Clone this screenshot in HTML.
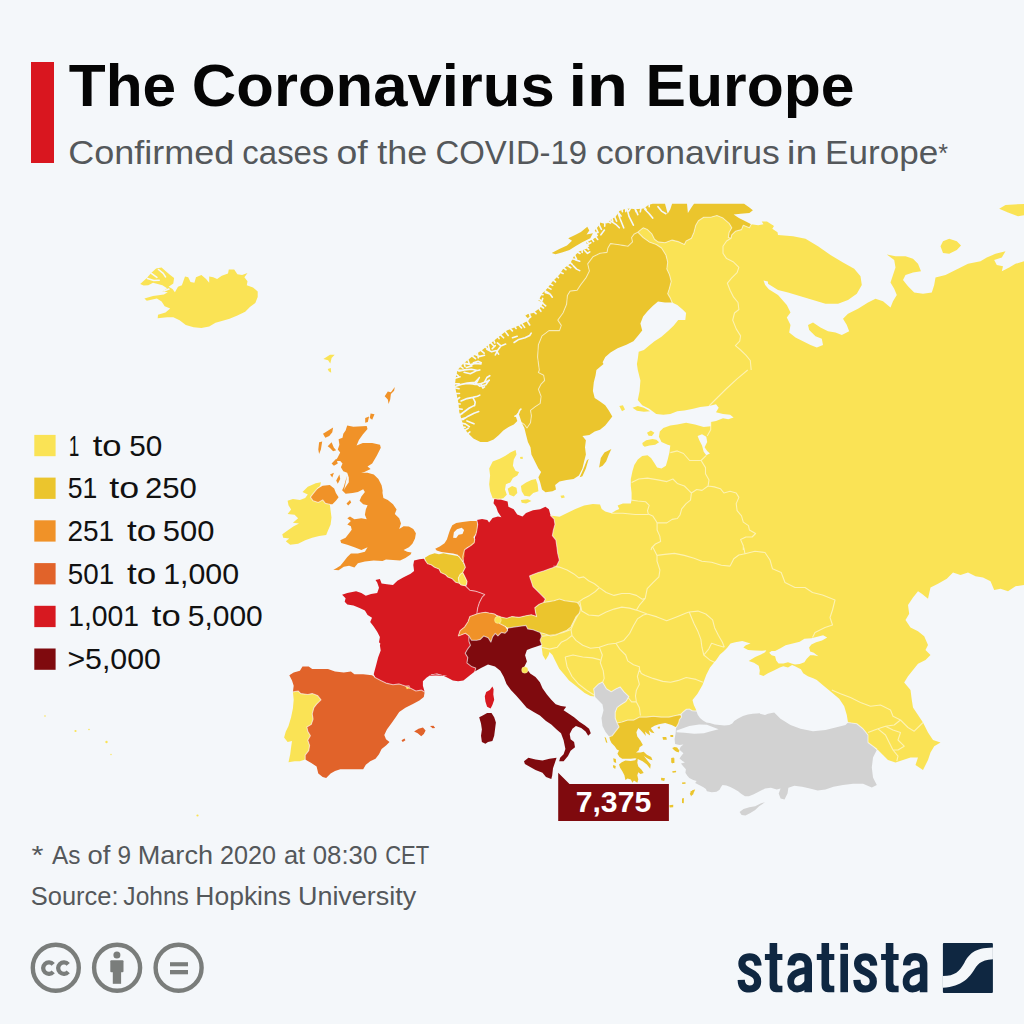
<!DOCTYPE html>
<html><head><meta charset="utf-8"><title>The Coronavirus in Europe</title>
<style>
html,body{margin:0;padding:0;background:#F4F7FA;}
body{width:1024px;height:1024px;overflow:hidden;font-family:"Liberation Sans",sans-serif;}
svg{display:block;}
text{font-family:"Liberation Sans",sans-serif;}
</style></head>
<body>
<svg width="1024" height="1024" viewBox="0 0 1024 1024">
<rect width="1024" height="1024" fill="#F4F7FA"/>
<g id="map">
<path d="M672.1,302.5L670.3,298.1L667.7,293.7L669.4,288.4L671.2,281.4L669.4,274.4L666.8,269.1L667.7,262.1L665.9,255L661.5,248L656.2,244.5L649.2,241.9L643.1,237.5L637.8,232.2L643.1,227.8L647.5,229.6L651.9,233.9L654.5,239.2L658,241.9L665,242.7L672.1,240.1L679.1,241.9L684.4,244.5L686.1,241L691.4,238.3L694,232.2L695.8,225.2L698.4,220.8L703.7,217.2L710.7,217.2L716.9,215.5L723,218.1L729.2,223.4L731.8,227.8L729.2,232.2L728.3,237.5L731,238.3L731.8,234.8L735.4,231.3L741.5,229.6L743.3,225.2L749.4,227.8L751.2,224.3L758.2,225.2L763.5,224.3L761.7,221.6L767,221.6L774,226L772.3,228.7L777.5,232.2L778,235L793,236.2L805.5,238.8L818,246.2L830.5,255L843,262.5L854.2,268.8L860.5,276.2L861.8,285L856.8,293.8L848,300L838,303.8L825.5,303.8L813,300L800.5,296.2L788,292.5L778,290L768,283.8L767.9,281.4L763.5,280.5L765.2,284.9L768.8,289.3L778,295L786.8,305L790.5,312.5L786.8,317.5L790.5,325L789.2,332.5L795.5,337.5L803,341.2L810.5,345L816.8,347.5L823,345L821.8,338.8L815.5,336.2L809.2,330L808,325L813,322.5L820.5,327.5L828,331.2L835.5,332.5L841.8,335L849.2,331.2L846.8,325L843,318.8L848,313.8L858,308.8L868,302.5L875.5,298.8L883,301.2L890.5,307.5L893,301.2L896.8,295L894.2,288.8L890.5,282.5L893,275L895.5,267.5L894.2,260L886.8,254.5L895.5,256.2L905.5,256.2L913,258.8L918,263.8L921,271.2L913,272.5L905.5,275L903,280L908,286.2L914.2,292.5L923,293.8L931.8,292.5L934.2,285L935.5,277.5L945.5,275L955.5,270L968,263.8L980.5,261.2L986.8,257.5L995.5,253.8L1005.5,251.2L1001.8,257.5L994.2,260L996.8,265L1003,266.2L1001.8,271.2L1009.2,267.5L1015.5,263.8L1024,261.2L1030,261L1030,585L1024,585L1015.5,586.2L1008,591.2L1000.5,588.8L994.2,590L990.5,581.2L983,577.5L975.5,576.2L968,572.5L960.5,575L953,572.5L946.8,578.8L938,583.8L930.5,587.5L928,598.8L921.8,593.8L918,591.2L913,597.5L908,605L909.2,613.8L905.5,620L910.5,627.5L918,631.2L924.2,636.2L928,645L925.5,650L930.5,655L925.5,660L918,663.8L913,670L908,676.2L904.2,682.5L910.5,690L911.8,700L913,707.5L918,715L923,722.5L928,732.5L933,740L940.5,742.5L934.2,746.2L930.5,752.5L928,760L923,770L915.5,765L918,757.5L910.5,757.5L903,760L895.5,762.5L888,760L883,755L878,750L873,746.2L868,742.5L868,735L863,728.8L856.8,723.8L848,722.5L846.8,715L844.2,706.2L839.2,698.8L831.8,692.5L824.2,686.2L816.8,680L813.8,678.6L807.9,676.2L803.2,673.3L800.9,669.2L795,666.3L792.1,665.1L788,667.5L783.3,666.3L779.8,667.5L773.9,670.4L768,673.3L763.4,676L759.3,674.5L759.8,670.4L758.7,665.7L754,662.8L748.7,661L755.2,656.9L761,654.6L765.1,652.2L766.3,650.2L762.2,650.7L755.2,650.5L748.1,649.9L743.4,647.5L745.8,645.2L750.5,643.4L742.3,641.1L735.2,642.3L730.5,643.4L727,648.1L723.5,651.6L720,654.6L716.2,660L710,667.5L706.2,675L702.5,685L697.5,693.8L692.5,700L693.8,705L696.8,711.2L692.2,710.7L689.3,709L686.4,709.3L683.4,711.7L681,714.2L676.7,715.2L668.9,717.1L661.1,717.1L653.3,716.2L646.4,717.1L639.6,717.1L633.8,720.1L627.9,720.1L622,722L617.1,723L615.2,718.1L615.2,712.3L617.1,707.4L621.1,704.5L625.9,701.5L628.9,696.6L624,691.8L620.1,686.9L616.2,688.8L611.3,691.8L606.4,688.8L602.5,682L598.6,683.9L593.7,688.8L594.7,696.6L590.5,696L584.7,693.1L578.8,688.2L573.9,684.3L569.1,680.4L564.2,674.5L559.3,668.7L555.4,660.9L552.5,655L549.5,652.1L548.6,655L545.6,659.9L542.7,655L541.7,647.2L541.8,644.7L540.1,640.3L541.8,635.9L540.1,632.4L545.4,634.1L550.6,635.9L555.9,635L561.2,632.4L566.4,630.6L570.8,627.1L573.5,621.8L576.1,616.6L579.6,613L580.5,607.8L577.9,602.5L571.7,601.6L564.7,600.7L559.4,599L554.1,600.7L548.9,601.6L543.6,602.5L545.4,599L541,594.6L536.6,590.2L533,586.7L531.3,581.4L529.5,576.1L533,574.4L538.3,572.6L543.6,570.9L548.9,569.1L554.1,567.3L556.8,565.6L559.4,560.3L557.7,553.3L556.8,546.2L555.9,540.1L552.4,535.7L553.3,530.4L555,524.3L554.1,519L550.6,515.5L559.5,516.8L566.6,513.3L575.4,508.9L584.1,505.4L592.9,503.9L600,504.5L601.7,508.9L605.2,511.5L611.4,513.3L615.8,510.6L619.3,508.9L617.6,505.4L622.9,503.6L630.8,503.6L631.6,500.1L631.6,493L630.8,486L630.8,479L632.5,471.1L634.3,464.9L637.8,459.6L642.2,456.1L647.5,455.3L651,457.9L654.5,463.2L657.1,467.6L661.5,468.4L665.9,465.8L667.7,459.6L669.4,452.6L670.3,445.6L667.7,444.7L661.5,442.1L658.9,436.8L659.8,431.5L663.3,428L670.3,425.4L677.3,424.5L686.1,422.7L694.9,424.5L703.7,427.1L710.7,426.2L710.7,421.9L716,421L723,418.3L728.3,419.2L733.6,417.5L730.1,414.8L723,413.9L716,412.2L718.7,407.8L716,404.3L709,406L700.2,406.9L693.2,408.7L684.4,410.4L677.3,411.3L670.3,413.9L663.3,414.8L656.2,413.9L649.2,408.7L642.2,405.2L637.8,399.9L639.6,391.1L640.4,380.5L637.8,370L636.9,364L637.8,358.8L638.7,351.7L643.9,350L649.2,345.6L654.5,341.2L661.5,336.8L668.6,330.6L673.8,325.4L678.2,320.1L685.3,320.1L686.1,313L682.6,309.5L677.3,305.1ZM940.5,246.2L943,241.2L949.2,238.8L956.8,241.2L961,245.5L956.8,250L949.2,253.8L943,253ZM999.2,208.8L1005.5,205L1025.5,203.8L1025.5,215L1018,216.2L1008,212.5ZM768,223.8L773,225L771.8,228.8L768,227.5ZM642.3,443L646.2,440.3L652.5,439.1L656.4,439.8L659.1,442.2L655.2,444.7L649.4,445.5L644.7,446.7L642.8,445.3ZM647,432.8L650.9,430.5L654.4,432.8L651.9,436.1L648.6,435.8ZM619.3,406L622.9,405.2L625,409.6L622,411.3ZM632.5,407.8L637.8,406L643.9,407.8L650.1,411.3L643.9,411.8L636.9,410.8Z" fill="#FAE355"/>
<path d="M775.1,651.1L780.9,648.1L785.6,645.2L792.7,643.4L799.7,641.7L804.4,638.8L811.4,638.2L818.4,636.4L823.1,635.2L827.2,637.6L822,640.5L816.1,642.3L811.4,644.6L809.1,647.5L810.2,651.6L813.8,652.8L818.4,656.3L813.8,655.2L810.2,655.2L806.7,658.7L804.4,662.2L799.7,663.9L795,664.5L791.5,663.4L788,662.2L783.3,663.4L778.6,663.4L776.2,660.4L775.1,656.3L771.6,655.2L769.2,652.8L771.6,651.1Z" fill="#F4F7FA"/>
<path d="M697.6,435.9L702,434.2L706.3,436.8L707.2,442.1L704.6,447.3L707.2,450.9L709.9,453.5L706.3,455.3L703.7,451.7L702,445.6L699.3,440.3Z" fill="#F4F7FA"/>
<path d="M696.3,710.5L692.2,710.7L689.3,709L686.4,709.3L683.4,711.7L681,714.2L681.5,717.1L679.5,719.5L678.6,722.9L677.1,725.9L676.1,727.3L675.6,733.2L674.6,739.1L675.1,743.9L679.5,744.9L683.4,744.4L680.5,746.9L679.5,749.8L683.4,753.2L681,756.2L679.5,758.6L682.5,761L684.9,762.5L681,763.5L683.4,766.4L685.9,769.3L685.4,772.8L687.3,775.7L689.3,778.1L693.2,780.1L696.6,781.1L695.2,783L699.1,785L703,786.9L705.9,788.9L706.9,791.3L711.8,792.3L716.6,791.8L719.6,789.8L721,786.9L722.5,785L726.4,785.4L730.3,786.9L734.2,788.9L738.1,791.3L741.1,793.8L745,796.2L748.9,796.2L753.8,794.2L757.7,792.3L759.1,791.6L765,788.6L770.9,787.7L776.7,789.6L780.6,788.6L778.7,793.5L780.6,798.4L784.5,799.4L787.5,793.5L788.4,787.7L794.3,785.7L802.1,786.7L809.9,788.6L817.7,790.6L825.5,789.6L833.4,786.7L843,785L853,783.8L863,783.8L871.8,787.5L876.8,785L873,777.5L871.8,767.5L873,757.5L876.8,750L873,746.2L868,742.5L868,735L863,728.8L856.8,723.8L848,722.5L845.5,725L835.5,727.5L825.5,730L813,731.2L800.5,728.8L790.5,725L780.5,718.8L774.2,712.5L768,713.8L765,715L760,713.8L760,713.2L752.8,713.7L747.9,714.6L743,716.1L738.1,718.6L734.2,721L732.3,723.4L729.3,724.9L724.5,725.4L719.6,724.9L714.7,724.4L709.8,722.9L706.4,722.5L703,720.5L700,718.1L697.6,714.6ZM739.6,812.1L743.5,809.1L749.4,807.2L755.2,806.2L761.1,803.3L765,802.3L759.1,806.2L755.2,810.1L750.4,813L745.5,815.6L741.6,815Z" fill="#D2D2D2"/>
<path d="M676.6,730.5L689.3,726L699.1,724.5L706.9,724.7L712.7,727L718.6,729.3L710.8,731.2L703.9,733.2L694.2,733.7L684.4,732.8L676.6,732.2Z" fill="#F4F7FA"/>
<path d="M594.7,696.6L593.7,688.8L598.6,683.9L602.5,682L606.4,688.8L611.3,691.8L616.2,688.8L620.1,686.9L624,691.8L628.9,696.6L625.9,701.5L621.1,704.5L617.1,707.4L615.2,712.3L615.2,718.1L617.1,723L619.1,726.9L615.2,731.8L612.3,735.7L609.3,736.7L605.4,731.8L602.5,725.9L601.5,718.1L603.5,710.3L602.5,704.5L598.6,700.5Z" fill="#D2D2D2"/>
<path d="M617.1,723L622,722L627.9,720.1L633.8,720.1L639.6,717.1L646.4,717.1L653.3,716.2L661.1,717.1L668.9,717.1L676.7,715.2L680.6,715.2L681.5,717.1L679.5,719.5L678.6,722.9L677.1,725.9L676.1,727.3L671.6,724.9L665.2,723.1L658.8,724.2L654.5,725.8L650.7,728.1L654.5,733.3L651.4,732.4L648.8,730.3L650.2,735.4L647.1,733.5L645,731.4L645.9,736L642.6,732.2L640.5,730.1L638.3,728.1L636.4,732.2L637.3,736.5L640.5,740.8L642.9,745.1L639.6,747.3L638.6,750.5L636,752.6L640.5,752.6L643.7,751.8L646.9,754.8L651.2,756.9L652.5,760.2L649.6,759.6L646.9,758L643.9,756.1L648,761.2L650.7,764.5L650.2,768.8L646.9,764.5L642.6,761.2L638.3,759.3L635.1,758.2L630.8,758.7L626.5,758.7L622.2,758.7L619.5,756.9L617.4,753.7L619,750.5L616.9,749.4L614.7,746.2L611.5,743L609.9,739.7L609.3,736.7L612.3,735.7L615.2,731.8L619.1,726.9ZM621.7,762.3L625.4,760.4L630.8,760.9L635.1,760.2L636.4,758.7L637.8,759.3L637.3,762.8L638.3,766.6L641.6,769.8L643.7,773L640.5,774.1L638.3,772.2L637.3,775.2L638.3,779.5L637.3,782.7L634,780.6L632.4,782.7L630.8,779.5L627.6,778.4L625.4,780L624.4,775.2L622.2,770.9L620.1,767.7L619,764.5ZM657.7,726.9L659.8,726.6L660,728.5L657.9,728.6ZM604.5,737.1L605.9,737.8L607.4,742.8L606.1,742.4ZM662.5,736.9L666.4,737.3L666.8,739.8L663,739.8ZM670.3,734.9L673.2,734.9L673.2,736.9L670.5,737.1ZM682,798.4L683.9,798L683.8,803.3L682,802.9ZM669.3,805.2L673.2,804.8L673.2,807.2L669.7,807.6ZM613.2,758.2L615.8,759.1L616.2,763L613.8,762.1ZM613.2,765L615.8,766L615.2,768.9L613,767.3ZM674.8,747.4L677.7,748.4L679.1,752.3L676.3,751.7ZM671.8,758.2L674.4,758.2L674.4,763L672,762.7ZM661.1,777.7L665,778.3L664.2,781L661.1,780.2ZM690.4,791.4L694.3,789.4L693.3,794.3L690.8,796.2ZM669.3,805.6L673.2,805L672.8,807.4L669.7,807.6ZM672.2,747.9L674.6,746.9L677.1,747.4L679.5,750.8L678.1,752.2L675.6,751.3L673.7,749.8ZM671.2,758.1L673.7,757.6L674.2,761L672.7,763.5L671.2,762.5ZM672.2,771.3L676.1,770.8L676.1,772.3L672.7,772.8ZM662.9,737.1L665.9,736.9L666.3,739.1L663.4,739.6ZM689.8,793.8L692.2,790.3L695.2,789.4L693.7,792.8L691.2,796.2ZM682,782.5L685.4,782.2L685.6,783.8L682.3,784Z" fill="#EBC52D"/>
<path d="M140.2,284.1L146.8,278.1L151.4,272.7L156.1,268.4L161.6,267.5L165.5,271.1L170.2,275L174.1,278.1L173.3,283.6L168.6,286.7L172.5,289.1L174.9,292.2L178,286.7L181.9,285.2L185,276.6L188.2,277.3L190.5,282L194.4,282.8L196,277.3L201.4,275L206.1,278.9L209.2,282.8L209.2,276.6L213.2,277.3L217.1,278.9L221.8,275.8L228,273.4L228.8,269.5L234.2,269.5L237.4,274.2L242.1,275L247.5,273.1L244.4,277.3L247.5,281.2L246.8,285.2L253,287.5L257.7,291.4L257.7,296.9L255.3,303.1L249.9,307L245.2,311.7L237.4,315.6L229.6,318.8L221.8,321.1L215.5,322.7L209.2,326.6L201.4,328.1L193.6,327.3L185.8,325L179.6,320.3L173.3,317.2L167.1,317.2L157.7,318.3L158,314.8L165.5,312.5L170.2,308.6L164.7,306.2L161.6,301.6L156.9,298.4L146.8,300.8L144.4,298.4L153,296.1L163.9,294.5L167.8,292.2L162.4,291.4L167.1,288.3L162.4,285.2L153,282.8L148.3,285.2L143.6,285.6Z" fill="#FAE355"/>
<path d="M323.4,359.1L330,354.8L334.7,354.8L331.6,358L330.3,363.4L328.1,360.3ZM327.7,368.9L330.8,368.1L331.2,372.8L328.8,371.2Z" fill="#FAE355"/>
<path d="M302.5,492L307.8,486.7L315.7,483.2L321,482.3L320.1,485.8L316.6,489.3L313.1,493.7L310.4,497.2L313.1,500.8L318.3,502.5L322.7,499.9L325.4,503.4L329.8,504.3L330.6,510.4L331.5,517.5L330.6,524.5L328,530.6L326.2,535L319.2,535.9L312.2,537.7L305.2,540.3L298.1,543.8L290.2,544.7L285.8,541.2L289.3,538.6L283.2,537.7L282.3,534.2L287.6,530.6L293.7,526.2L299,523.6L292.9,522.7L298.1,518.3L294.6,514.8L287.6,513.9L291.1,509.6L288.5,505.2L287.6,500.8L292.9,499L299.9,499.9L305.2,498.1L307.8,494.6Z" fill="#FAE355"/>
<path d="M384.7,396.2L387.8,391.6L390.9,392.3L394.8,386.9L394.1,390.8L390.9,393.9L390.2,399.4L388.6,404.1L387.8,399.4ZM365.2,418.1L369.1,416.6L367.8,422L365.2,422.8ZM370.6,413.4L374.5,414.2L372.2,419.7L369.8,418.1ZM323,433.8L333.1,427.5L332.3,432.2L329.2,436.1L325.3,437.7ZM319.1,442.3L322.2,441.6L320.9,449.4L319.1,454.1L318.3,449.4ZM327.7,446.2L331.6,442.3L333.9,447.8L336.2,450.2L333.1,451.2L330,448.1ZM331.6,463.4L336.2,458.8L337.8,463.4L333.9,465.8ZM330,474.4L333.9,472.8L332.3,477.5ZM336.2,480.6L339.4,474.4L340.2,479.1L337.8,483.8ZM347.2,425.6L353.4,426.7L366.7,425.9L367.5,429.1L362.8,434.5L358.9,440L356.6,445.5L362.8,443.1L372.2,443.1L380,444.7L380.8,447.8L376.9,455.6L372.2,463.4L367.5,466.6L370.6,468.9L364.4,472L361.2,472.8L367.5,472.8L373.8,474.4L378.4,479.1L381.6,485.3L383.1,493.1L378.1,479.7L381.6,485.8L382.5,492.9L383.4,498.1L387.8,499.9L393,504.3L396.6,509.6L394.8,513.9L399.2,518.3L401,523.6L399.2,528.9L403.6,526.2L408.9,526.6L413.3,528.9L415.9,533.3L415,538.6L412.4,543.8L408.9,547.3L403.6,550L407.1,551.7L411.5,552.6L410.6,554.4L405.4,557.9L400.1,560.5L393,560L386,559.6L382.5,561.1L373.7,560.5L364.9,561.4L357.9,563.2L354.4,567.6L349.1,565.8L343.8,566.7L338.6,570.2L333.3,569.8L335.9,568.4L340.3,565.8L343.8,561.4L347.3,557L350.9,553.5L357.9,553.5L364.9,551.7L367.6,547.3L361.4,550L354.4,547.3L347.3,544.7L341.2,542.9L340.3,540.3L345.6,537.7L349.1,533.3L351.7,529.8L350.9,526.2L347.3,524.5L350.9,521L347.3,518.3L350,516.6L354.4,519.2L361.4,518.3L366.7,519.2L364.9,514.8L365.8,509.6L367.6,505.2L363.2,504.3L359.6,500.8L361.4,496.4L364.9,492L363.2,489.3L357.9,492L352.6,492.9L345.6,493.7L342.1,490.2L343.8,486.7L345.6,480.5L347.3,475.3L344.1,490L345.6,486.9L348.8,482.2L348.8,477.5L347.2,472.8L343.3,471.2L340.9,467.3L342.5,463.4L340.2,461.1L335.5,461.1L337.8,457.2L340.2,452.5L337.8,449.4L339.4,444.7L338.6,439.2L342.5,437.7L343.3,433.8L345.6,430.6ZM346.5,503.4L350,499.9L351.2,502.5L348.2,505.5ZM310.4,497.2L313.1,493.7L316.6,489.3L322.7,485.8L329.8,484.9L334.2,488.5L335.9,492.9L338.6,497.2L335.9,500.8L332.4,504.3L329.8,504.3L325.4,503.4L322.7,499.9L318.3,502.5L313.1,500.8Z" fill="#F09228"/>
<path d="M521.7,422.7L520,417.5L518.2,412.2L515.6,415.7L517.3,421L513.8,424.5L508.6,427.1L503.3,430.6L498.9,435L493.6,439.4L487.5,442.1L480.4,442.1L473.4,438.6L468.1,433.3L463.7,428L462,421L459.3,412.2L458.5,403.4L456.7,394.6L454.9,385.8L455.8,377L457.6,370L462.9,364L471.6,357L482.2,350L491,342.9L499.8,335.9L506.8,330.6L515.6,327.1L522.6,323.6L529.6,320.1L524.4,314.8L533.2,313L540.2,307.8L543.7,302.5L538.4,300.7L542,293.7L547.2,288.4L552.5,281.4L559.5,274.4L563,269.1L570.1,263.8L573.6,256.8L578.9,251.5L585.9,248.9L589.4,246.2L585.9,242.7L592.9,239.2L598.2,235.7L594.7,230.4L600,224.3L600,221.6L607,223.4L610.5,219.9L615.8,216.4L619.3,211.1L624.6,209.3L629.9,208.5L635.2,209.3L643.9,208.5L648.3,204.9L652.7,203.7L665,203.7L667.7,213.7L670.3,209.3L672.1,203.7L687,203.7L687.9,212.9L691.4,207.6L694,203.7L744.1,203.7L749.4,207.6L752.9,210.2L749.4,212.9L740.6,213.7L733.6,214.6L738.9,218.1L745.9,221.6L751.2,224.3L749.4,227.8L743.3,225.2L741.5,229.6L735.4,231.3L731.8,234.8L731,238.3L728.3,237.5L729.2,232.2L731.8,227.8L729.2,223.4L723,218.1L716.9,215.5L710.7,217.2L703.7,217.2L698.4,220.8L695.8,225.2L694,232.2L691.4,238.3L686.1,241L684.4,244.5L679.1,241.9L672.1,240.1L665,242.7L658,241.9L654.5,239.2L651.9,233.9L647.5,229.6L643.1,227.8L637.8,232.2L634.3,233.9L631.6,237.5L632.5,241.9L628.1,246.2L622.9,245.4L617.6,244.5L610.5,243.6L607.9,248L607,252.4L600,253.3L592.9,256.8L587.7,263.8L589.4,270.9L585.9,277.9L580.6,284.9L577.1,290.2L570.1,291.1L567.4,295.5L566.6,304.3L563,313L557.8,320.1L561.3,325.4L559.5,330.6L549,330.6L542,335.9L538.4,344.7L537.6,357L539.3,370L538.4,372.6L543.7,375.3L544.6,380.5L541.1,384.1L538.4,389.3L541.1,396.4L540.2,403.4L534.9,406.9L530.5,410.4L531.4,415.7L530.5,422.7L527,428L524.4,424.5ZM551.7,253L559.3,248.9L567,245.4L572,240.8L568.2,238.2L574.6,235.2L580.9,231.9L587.3,226.8L589.3,230.6L586.5,234.4L592.9,233.2L590.3,238.2L582.2,242.3L575.8,246.1L569.5,249.9L561.9,252.5L555.5,254.2Z" fill="#EBC52D"/>
<path d="M637.8,232.2L643.1,237.5L649.2,241.9L656.2,244.5L661.5,248L665.9,255L667.7,262.1L666.8,269.1L669.4,274.4L671.2,281.4L669.4,288.4L667.7,293.7L670.3,298.1L672.1,302.5L665,302.5L658,301.6L652.7,306L647.5,311.3L643.1,316.6L640.4,323.6L642.2,330.6L637.8,335.9L633.4,341.2L626.4,344.7L617.6,348.2L610.5,352.6L605.3,357L602.6,362.3L603.5,364L596.4,370L595.6,375.3L593.8,382.3L592.9,391.1L594.7,398.1L600,401.6L605.2,405.2L608.8,410.4L612.3,416.6L608.8,421L605.2,425.4L600,429.8L594.7,431.5L589.4,435L582.4,435.9L585.9,440.3L585,447.3L585.9,454.4L584.1,461.4L582.4,468.4L578.9,475.5L573.6,479L566.6,479.9L559.5,481.6L555.1,485.1L556,489.5L552.5,491.3L545.5,492.2L542,489.5L540.2,482.5L538.4,477.2L541.1,472L538.4,468.4L534.9,461.4L531.4,454.4L530.5,447.3L527.9,442.1L526.1,435L524.4,428L521.7,422.7L524.4,424.5L527,428L530.5,422.7L531.4,415.7L530.5,410.4L534.9,406.9L540.2,403.4L541.1,396.4L538.4,389.3L541.1,384.1L544.6,380.5L543.7,375.3L538.4,372.6L539.3,370L537.6,357L538.4,344.7L542,335.9L549,330.6L559.5,330.6L561.3,325.4L557.8,320.1L563,313L566.6,304.3L567.4,295.5L570.1,291.1L577.1,290.2L580.6,284.9L585.9,277.9L589.4,270.9L587.7,263.8L592.9,256.8L600,253.3L607,252.4L607.9,248L610.5,243.6L617.6,244.5L622.9,245.4L628.1,246.2L632.5,241.9L631.6,237.5L634.3,233.9ZM579.7,477.2L583.3,469.3L586.8,460.5L588.7,458.8L585.9,468.4L582.4,476.3ZM599.1,467.6L600.8,457.9L604.4,452.6L611.4,449.1L608.8,454.4L606.1,461.4L602.6,465.8Z" fill="#EBC52D"/>
<path d="M492.7,498.3L490.1,491.3L489.2,484.3L490.1,475.5L489.2,468.4L492.7,461.4L499.8,458.8L505,456.1L510.3,452.6L515.6,450L516.5,454.4L513.8,459.6L512.9,465.8L515.6,471.1L519.1,472L517.3,475.5L512.9,478.1L510.3,482.5L505.9,484.3L505,489.5L506.8,494.8L503.3,498.3L498,499.2ZM507.7,488.7L512.1,486L516.5,487.8L517.3,493L513.8,496.6L509.4,494.8ZM520.9,486L526.1,482.5L531.4,479.9L535.8,479L537.6,484.3L538.4,491.3L533.2,493L529.6,496.6L524.4,495.7L521.7,491.3ZM520.9,500.1L527.9,499.2L531.4,501L526.1,503.6L521.7,502.7ZM560.4,495.7L563.9,495.2L564.8,497.4L561.6,498.3ZM520,457L522.6,456.7L523,458.8L520.5,459.1Z" fill="#FAE355"/>
<path d="M292.9,691.9L298.1,691L300.8,693.6L307.8,694.5L312.2,693.6L317.5,695.4L321,699.8L316.6,704.2L313.9,707.7L312.2,713.8L313.1,719.1L311.3,724.4L306.9,727L307.8,731.4L310.4,735.8L307.8,740.2L309.6,745.5L308.7,750.7L305.2,755.1L305.2,759.5L299.9,761.3L294.6,761.3L288.5,762.2L290.2,754.3L291.1,747.2L292,741.1L287.6,742L284.1,737.6L285.8,731.4L288.5,726.1L291.1,717.3L292.9,708.6L293.7,699.8Z" fill="#FAE355"/>
<path d="M289.3,675.2L293.7,672.5L299.9,670.8L302.5,666.4L308.7,666.4L312.2,669L321,669L328,669L335,671.6L343.8,672.5L350.9,671.6L354.4,674.3L363.2,674.3L372,675.2L375.5,677.8L380.7,680.4L386,683.1L393,684.8L399.2,683.9L404.5,685.7L410.6,688.3L415.9,691L421.2,690.1L424.7,691.9L423.8,697.1L419.4,700.6L412.4,704.2L405.4,707.7L399.2,712.1L395.7,717.3L391.3,723.5L386.9,729.6L384.3,734.9L386,739.3L389.5,742L386,745.5L381.6,749L379,754.3L375.5,758.7L370.2,761.3L365.8,764.8L363.2,769.2L356.1,769.2L347.3,769.2L340.3,769.2L335,771L330.6,773.6L326.2,778L322.7,777.1L318.3,773.6L316.6,766.6L311.3,763L305.2,759.5L305.2,755.1L308.7,750.7L309.6,745.5L307.8,740.2L310.4,735.8L307.8,731.4L306.9,727L311.3,724.4L313.1,719.1L312.2,713.8L313.9,707.7L316.6,704.2L321,699.8L317.5,695.4L312.2,693.6L307.8,694.5L300.8,693.6L298.1,691L292.9,691.9L293.7,685.7L292,680.4ZM414.1,731.4L418.5,728.8L422.9,727.5L425.6,730.5L423.8,734L421.2,736.3L417.7,733.2ZM430,726.1L433.5,725.8L435.2,727.9L432.6,728.2ZM401.5,740.2L404.5,738.4L405.4,740.2L402.7,742Z" fill="#E1632A"/>
<path d="M405.4,686.1L408.9,685.7L410.1,688.3L406.8,689.2Z" fill="#FAE355"/>
<path d="M342.1,594.8L347.3,593L356.1,591.3L361.4,593L365.8,595.7L371.1,593.9L377.2,593L379,587.8L377.2,582.5L375.5,579.9L379.9,579L381.6,583.4L386.9,584.3L393,585.1L397.4,580.7L403.6,577.2L410.6,573.7L414.1,571.1L413.3,564.9L414.1,560.5L419.4,559.3L423.8,558.8L425.8,561.2L427.6,563.8L431.1,564.7L434.6,567.3L439,569.1L440.8,572.6L445.2,574.4L447.8,577L452.2,578.8L455.7,582.3L459.2,583.2L461,584.9L465.4,585.8L466.2,586.7L469.8,590.2L475,591.1L480.3,592.8L484.7,594.6L482.1,597.2L479.4,602.5L477.7,607.8L476.8,613.9L469.8,616.6L468,621.8L464.5,627.1L460.1,630.6L458.3,635.9L461,635L465.4,633.3L468.9,635.9L468.9,641.2L470.4,645.3L467.8,648.8L465.2,653.2L467.8,657.6L466.9,662.9L471.3,666.4L475.7,668.1L474.8,671.6L472.2,673.4L467.8,676.9L463.4,680.4L458.1,681.3L452.9,680.4L447.6,677.8L442.3,675.2L435.3,674.3L430,675.2L447.5,676L443.1,675.2L437,673.4L431.7,674.3L426.4,677.8L422.9,681.3L422.9,685.7L424.7,691.9L421.2,690.1L415.9,691L410.6,688.3L404.5,685.7L399.2,683.9L393,684.8L386,683.1L380.7,680.4L375.5,677.8L373.7,674.3L374.6,670.8L376.3,664.6L378.1,657.6L380.7,650.5L379.9,645.3L381.6,640L382.5,645.8L379,642.3L379.9,637L377.2,631.7L373.7,626.4L370.2,622.1L372,617.7L367.6,615L364.9,610.6L359.6,608L353.5,605.4L347.3,604.5L344.7,601.8L345.6,598.3ZM492.4,686.6L493.6,689.2L493.3,694.5L494.2,699.8L492.4,705L490.6,708.6L487.1,706.8L485.4,701.5L484.8,696.2L486.2,691.9L489.8,690.1Z" fill="#D71920"/>
<path d="M494.4,498.8L501.4,499.7L507.6,501.4L508.4,506.7L513.7,509.3L517.2,514.6L522.5,516.4L526,512.9L533,510.2L540.1,509.3L545.4,506.7L548.9,509.3L550.6,515.5L554.1,519L555,524.3L553.3,530.4L552.4,535.7L555.9,540.1L556.8,546.2L557.7,553.3L559.4,560.3L556.8,565.6L554.1,567.3L548.9,569.1L543.6,570.9L538.3,572.6L533,574.4L529.5,576.1L531.3,581.4L533,586.7L536.6,590.2L541,594.6L545.4,599L543.6,602.5L539.2,604.3L534.8,607.8L535.7,613L536.6,616.6L531.3,614.8L526,615.7L519,617.4L512,616.6L506.7,618.3L502.3,617.4L497.9,615.7L494.4,613.9L489.1,613L485.6,612.2L480.3,613L476.8,613.9L477.7,607.8L479.4,602.5L482.1,597.2L484.7,594.6L480.3,592.8L475,591.1L469.8,590.2L466.2,586.7L467.1,581.4L464.5,576.1L462.7,572.6L465.4,567.3L463.6,562.1L462.7,556.8L464.5,549.8L469.8,546.2L474.2,542.7L475,537.5L476.8,530.4L477.7,524.3L476.8,519.9L482.1,519L487.3,519.9L489.1,522.5L492.6,518.1L497.9,516.4L501.4,517.2L497.9,512L496.1,506.7L493.5,503.2Z" fill="#D71920"/>
<path d="M476.9,520.9L477.3,526.9L476.6,533.1L473.4,537L475,541.7L471.9,545.6L467.2,547.2L464.4,550.3L464.4,556.6L462.8,561.6L460.2,558.1L457.8,554.7L453.1,553.4L446.9,552.7L441.4,551.9L436.7,550.6L435.2,548.8L439.8,546.4L444.5,543.3L446.9,539.4L448.4,534.7L450,530L452.3,525.3L456.2,523L462.5,521.9L470.3,521.1Z" fill="#F09228"/>
<path d="M453.1,537.8L453.9,532.3L457,529.2L461.7,527.7L464.1,530L462.5,533.9L458.6,534.7L456.2,538.1Z" fill="#F4F7FA"/>
<path d="M424.9,557.7L429.3,555L434.6,553.3L439,554.2L443.4,553.3L447.8,554.2L452.2,555L457.5,555.9L461,558.6L462.7,562.1L465.4,567.3L462.7,572.6L460.1,574.4L458.3,577.9L459.2,583.2L455.7,582.3L452.2,578.8L447.8,577L445.2,574.4L440.8,572.6L439,569.1L434.6,567.3L431.1,564.7L427.6,563.8L425.8,561.2Z" fill="#EBC52D"/>
<path d="M460.1,574.4L462.7,572.6L464.5,576.1L467.1,581.4L465.4,585.8L461,584.9L459.2,583.2L458.3,577.9Z" fill="#FAE355"/>
<path d="M497.9,615.7L502.3,617.4L506.7,618.3L512,616.6L519,617.4L526,615.7L531.3,614.8L536.6,616.6L535.7,613L534.8,607.8L539.2,604.3L543.6,602.5L548.9,601.6L554.1,600.7L559.4,599L564.7,600.7L571.7,601.6L577.9,602.5L580.5,607.8L579.6,613L576.1,616.6L573.5,621.8L570.8,627.1L566.4,630.6L561.2,632.4L555.9,635L550.6,635.9L545.4,634.1L540.1,632.4L533,629.7L527.8,628.9L526,625.4L519.9,626.2L513.7,627.1L508.4,628L504.9,626.2L499.6,623.6L497,616.6Z" fill="#EBC52D"/>
<path d="M458.3,635.9L460.1,630.6L464.5,627.1L468,621.8L469.8,616.6L476.8,613.9L480.3,613L485.6,612.2L489.1,613L494.4,613.9L497,616.6L499.6,623.6L504.9,626.2L507.6,630.6L504.9,633.3L501.4,632.4L497.9,635.9L495.3,633.3L492.6,636.8L490.9,642.1L488.2,637.7L483.8,635.9L480.3,639.4L476.8,640.3L471.5,640.3L468.9,635.9L465.4,633.3L461,635Z" fill="#F09228"/>
<path d="M468.9,641.2L468.9,635.9L471.5,640.3L476.8,640.3L480.3,639.4L483.8,635.9L488.2,637.7L490.9,642.1L492.6,636.8L495.3,633.3L497.9,635.9L501.4,632.4L504.9,633.3L507.6,630.6L508.4,628L513.7,627.1L519.9,626.2L526,625.4L527.8,628.9L533,629.7L540.1,632.4L541.8,635.9L540.1,640.3L541.8,644.7L536.6,646.4L531.3,648.2L526.9,650L525.1,655.2L526.9,661.4L524.3,666.7L526.7,669L530.2,673.4L535.5,676.9L539.9,682.2L542.5,688.3L546.9,694.5L551.3,699.8L555.7,704.2L561,705.9L566.2,706.8L563.6,710.3L568.9,713.8L574.1,717.3L579.4,721.7L584.7,725.3L589.1,728.8L590.8,733.2L588.2,735.8L585.6,731.4L581.2,727.9L575.9,726.1L572.4,728.8L569.7,734L570.6,739.3L574.1,742L575,747.2L570.6,750.7L568,756L563.6,761.3L559.2,761.3L560.1,757.8L563.6,754.3L565.4,749L563.6,740.2L561,733.2L556.6,729.6L551.3,724.4L546,720.9L539.9,715.6L533.7,712.1L526.7,707.7L521.4,701.5L516.1,695.4L510.9,690.1L506.5,683.9L503.8,676.9L500.3,670.8L495,666.4L488,664.6L481,668.1L474.8,671.6L475.7,668.1L471.3,666.4L466.9,662.9L467.8,657.6L465.2,653.2L467.8,648.8L470.4,645.3ZM524,761.3L528.4,757.8L535.5,759.5L542.5,760.4L549.5,758.7L556.6,757.8L554.8,763L553,768.3L552.2,775.4L551.3,778.9L546,777.1L542.5,772.7L535.5,770.1L529.3,766.6L524.9,763.9ZM479.2,717.3L482.7,715.6L487.1,712.9L491.5,712.9L494.2,717.3L495.9,722.6L495,729.6L494.2,735.8L492.4,741.1L488,742L485.4,743.7L481.9,742L481,735.8L481.9,729.6L481,723.5Z" fill="#7F0A0E"/>
<path d="M751.9,224.4L751.2,224.3L749.4,227.8L743.3,225.2L741.5,229.6L735.4,231.3L731.8,234.8L731.0,238.3L728.3,237.5L729.2,232.2L731.8,227.8L729.2,223.4L723.0,218.1L716.9,215.5L710.7,217.2L703.7,217.2L698.4,220.8L695.8,225.2L694.0,232.2L691.4,238.3L686.1,241.0L684.4,244.5L679.1,241.9L672.1,240.1L665.0,242.7L658.0,241.9L654.5,239.2L651.9,233.9L647.5,229.6L643.1,227.8L637.8,232.2L643.1,237.5L649.2,241.9L656.2,244.5L661.5,248.0L665.9,255.0L667.7,262.1L666.8,269.1L669.4,274.4L671.2,281.4L669.4,288.4L667.7,293.7L670.3,298.1L672.1,302.5L672.7,302.8M551.8,515.7L550.6,515.5L554.1,519.0L555.0,524.3L553.3,530.4L552.4,535.7L555.9,540.1L556.8,546.2L557.7,553.3L559.4,560.3L556.8,565.6L554.1,567.3L548.9,569.1L543.6,570.9L538.3,572.6L533.0,574.4L529.5,576.1L531.3,581.4L533.0,586.7L536.6,590.2L541.0,594.6L545.4,599.0L543.6,602.5L548.9,601.6L554.1,600.7L559.4,599.0L564.7,600.7L571.7,601.6L577.9,602.5L580.5,607.8L579.6,613.0L576.1,616.6L573.5,621.8L570.8,627.1L566.4,630.6L561.2,632.4L555.9,635.0L550.6,635.9L545.4,634.1L540.1,632.4L541.8,635.9L540.1,640.3L541.8,644.7L541.8,645.4M594.0,696.5L594.7,696.6L593.7,688.8L598.6,683.9L602.5,682.0L606.4,688.8L611.3,691.8L616.2,688.8L620.1,686.9L624.0,691.8L628.9,696.6L625.9,701.5L621.1,704.5L617.1,707.4L615.2,712.3L615.2,718.1L617.1,723.0L622.0,722.0L627.9,720.1L633.8,720.1L639.6,717.1L646.4,717.1L653.3,716.2L661.1,717.1L668.9,717.1L676.7,715.2L679.7,714.5M680.3,714.4L681.0,714.2L683.4,711.7L686.4,709.3L689.3,709.0L692.2,710.7L696.8,711.2L696.1,709.8M847.9,721.8L848.0,722.5L856.8,723.8L863.0,728.8L868.0,735.0L868.0,742.5L873.0,746.2L877.1,749.3M681.1,714.7L681.5,717.1L679.5,719.5L678.6,722.9L677.1,725.9L676.1,727.3L676.0,728.0M616.8,722.3L617.1,723.0L619.1,726.9L615.2,731.8L612.3,735.7L609.3,736.7L608.9,736.2M318.5,487.4L316.6,489.3L313.1,493.7L310.4,497.2L313.1,500.8L318.3,502.5L322.7,499.9L325.4,503.4L329.8,504.3L329.9,505.0M524.4,424.5L527.0,428.0L530.5,422.7L531.4,415.7L530.5,410.4L534.9,406.9L540.2,403.4L541.1,396.4L538.4,389.3L541.1,384.1L544.6,380.5L543.7,375.3L538.4,372.6L539.3,370.0L537.6,357.0L538.4,344.7L542.0,335.9L549.0,330.6L559.5,330.6L561.3,325.4L557.8,320.1L563.0,313.0L566.6,304.3L567.4,295.5L570.1,291.1L577.1,290.2L580.6,284.9L585.9,277.9L589.4,270.9L587.7,263.8L592.9,256.8L600.0,253.3L607.0,252.4L607.9,248.0L610.5,243.6L617.6,244.5L622.9,245.4L628.1,246.2L632.5,241.9L631.6,237.5L634.3,233.9L637.8,232.2L638.3,231.8M521.5,422.0L521.7,422.7L524.4,424.5M493.8,498.5L498.0,499.2L500.2,498.8M292.9,691.9L298.1,691.0L300.8,693.6L307.8,694.5L312.2,693.6L317.5,695.4L321.0,699.8L316.6,704.2L313.9,707.7L312.2,713.8L313.1,719.1L311.3,724.4L306.9,727.0L307.8,731.4L310.4,735.8L307.8,740.2L309.6,745.5L308.7,750.7L305.2,755.1L305.2,759.5L304.5,759.7M424.6,692.6L424.7,691.9L421.2,690.1L415.9,691.0L410.6,688.3L404.5,685.7L399.2,683.9L393.0,684.8L386.0,683.1L380.7,680.4L375.5,677.8L374.2,676.9M405.4,686.1L408.9,685.7L410.1,688.3L409.3,688.5M474.2,672.0L474.8,671.6L475.7,668.1L471.3,666.4L466.9,662.9L467.8,657.6L465.2,653.2L467.8,648.8L470.4,645.3L468.9,641.2L468.9,635.9L465.4,633.3L461.0,635.0L458.3,635.9L460.1,630.6L464.5,627.1L468.0,621.8L469.8,616.6L476.8,613.9L477.7,607.8L479.4,602.5L482.1,597.2L484.7,594.6L480.3,592.8L475.0,591.1L469.8,590.2L466.2,586.7L465.4,585.8L461.0,584.9L459.2,583.2L455.7,582.3L452.2,578.8L447.8,577.0L445.2,574.4L440.8,572.6L439.0,569.1L434.6,567.3L431.1,564.7L427.6,563.8L425.8,561.2L424.8,559.9M544.0,601.7L543.6,602.5L539.2,604.3L534.8,607.8L535.7,613.0L536.6,616.6L531.3,614.8L526.0,615.7L519.0,617.4L512.0,616.6L506.7,618.3L502.3,617.4L497.9,615.7L497.2,615.4M496.3,614.9L494.4,613.9L489.1,613.0L485.6,612.2L480.3,613.0L476.8,613.9L476.9,613.1M466.5,584.9L467.1,581.4L464.5,576.1L462.7,572.6L465.4,567.3L463.8,562.7M463.5,561.6L462.7,556.8L464.5,549.8L469.8,546.2L474.2,542.7L474.8,538.9M475.5,535.6L476.8,530.4L477.7,524.3L476.9,520.2M463.0,561.1L462.8,561.6L460.2,558.1L458.6,555.9M463.0,572.0L462.7,572.6L460.1,574.4L458.3,577.9L459.2,583.2L458.5,583.0M541.0,632.7L540.1,632.4L533.0,629.7L527.8,628.9L526.0,625.4L519.9,626.2L513.7,627.1L508.4,628.0L507.8,627.7M506.1,626.8L504.9,626.2L499.6,623.6L497.0,616.6L497.5,616.1M507.1,629.8L507.6,630.6L504.9,633.3L501.4,632.4L497.9,635.9L495.3,633.3L492.6,636.8L490.9,642.1L488.2,637.7L483.8,635.9L480.3,639.4L476.8,640.3L471.5,640.3L468.9,635.9L468.3,635.5M731,238.3L726.6,241L723,246.2L723,253.3L726.6,258.6L733.6,262.1L738.9,267.3L737.1,272.6L731.8,277.9L727.4,283.2L730.1,290.2L733.6,297.2L738,302.5L738.9,309.5L734.5,313L732.7,320.1L736.2,328.9L740.6,335.9L739.7,341.2L735.4,345.6L740.6,350L745.9,355.2L750.3,360.5L751.2,370M747.7,370L737.1,378.8L726.6,388.5L716,399L709,406M710.7,421.9L710.7,429.8L707.2,435.9M706.3,455.3L701.1,460.5M670.3,452.6L677.3,450.9L683.5,453.5L689.6,460.5L695.8,460.5L701.1,460.5L705.5,467.6L705.5,473.7L709,479.9L708.1,486M631.6,482.5L638.7,479L647.5,478.1L658,479.9L666.8,481.6L672.9,479L677.3,483.4L684.4,486L688.8,490.4L691.4,493L696.7,489.5L702,490.4L708.1,486M708.1,486L714.3,486.9L720.4,488.7L723.9,493L730.1,491.3L736.2,493L738.9,497.4L736.2,503.6L737.1,510.6L741.5,515.9L743.3,522.1L748.5,525.6L749.4,530L755.6,533.5L752.1,537L745.9,537L740.6,539.6L743.3,545.8L743.3,550M691.4,493L690.5,500.1L686.1,503.6L681.7,508.9L680,515L677.3,518.5L672.1,519.4L666.8,522.9L661.5,522.9L657.1,522.9M631.6,500.1L637.8,501L645.7,501.8L649.2,505.4L647.5,510.6L648.3,514.1L652.7,515.9L656.2,521.2L657.1,522.9L657.1,530L659.8,536.1L660.6,541.4L655.4,544L651.9,547.5L651,550M611.4,513.3L622.9,513.3L635.2,514.5L648.3,514.5M553.4,566.1L559.3,567.1L567.1,570L573.9,573.9L578.8,577.9L583.7,576.9L588.6,580.8L594.5,583.7L599.3,587.6L606.2,592.5L614,595.4L621.8,593.5L629.6,593.5L636.4,595.4L642.3,599.3L645.2,598.4L647.2,588.6L653,582.7L658.9,576.9L659.9,570L657,561.2L657,555.4L653,547.6M657,555.4L664.8,554.4L674.5,553.4L684.3,555.4L694.1,558.3L701.9,561.2L711.6,562.2L721.4,565.2L730,566.1M599.3,587.6L595.4,591.5L589.6,595.4L583.7,598.4L579.8,601.3L576.9,603.2M579.8,601.3L581.8,611.1L588.6,615L598.4,615.9L606.2,612L614,609.1L621.8,607.1L629.6,608.1L636.4,610.1L639.4,605.2L645.2,598.4M636.4,610.1L647.2,614L657,616.9L666.7,620.8L676.5,616.9L686.2,613L689.2,612L698,611.1L705.8,614L712.6,619.8L714.6,627.7L718.5,635.5L722.4,642.3L724.3,647.2M689.2,612L694.1,623.8L698,631.6L700.9,639.4L701.9,647.2L703.8,655L709.7,659.9L715.5,662.8M703.8,655L708.7,649.1L711.6,643.3L717.5,645.2L724.3,647.2M579.8,612L576.9,616.9L573.9,622.8L571,629.6L572,635.5L575.9,640.4L582.7,645.2L590.5,648.2L599.3,647.2L608.1,644.3L615.9,643.3L623.8,640.4L629.6,633.5L633.5,625.7L637.4,618.9L643.3,615L647.2,614M615.9,643.3L619.8,649.1L625.7,655L627.7,660.9L633.5,664.8L639.4,666.7L639.4,669.6L641.3,673.6L645.2,675.5L653,678.4L662.8,681.4L670.6,682.3L678.4,680.4L686.2,677.5L696,679.4L702.9,682.3M639.4,669.6L637.4,676.5L639.4,684.3L636.4,690.2L635.5,696L636.4,701.9L639.4,707.7L640.4,715.5M627.7,697L631.6,701.9L636.4,701.9M599.3,647.2L602.3,655L600.3,662.8L603.2,670.6L604.2,678.4L602.7,682M565.2,657L573,655L582.7,657L592.5,657.9L600.3,659.9M565.2,657L567.1,666.7L572,676.5L578.8,684.3L586.6,690.2L594.1,695M540.7,636.4L547.6,635.5L555.4,634.5L563.2,632.5L571,629.6M541.7,647.2L549.5,649.1L557.3,647.2L561.2,642.3L567.1,639.4L572,635.5M743.8,547.5L745,553.8L755,551.2L765,552.5L770,560L772.5,568.8L781.2,572.5L785,582.5L795,587.5L805,587.5L812.5,592.5L822.5,595L835,600L832.5,610L830,617.5L832.5,625L825,627.5L815,632.5L812.5,637.5M730,566.2L733.8,558.8L738.8,555L745,553.8M831.8,690L840.5,693.8L850.5,697.5L860.5,702.5L870.5,706.2L880.5,705L890.5,710L893,716.2L900.5,720L908,727.5L914.2,731.2L920.5,725L923,722.5M868,732.5L878,728.8L885.5,726.2L894.2,725L900.5,720M878,728.8L885.5,735L889.2,742.5L893,750L898,756.2L896.8,761.2M885.5,726.2L893,730L900.5,732.5L898,740L904.2,746.2L898,750L893,750" fill="none" stroke="#fff" stroke-opacity="0.55" stroke-width="1.1" stroke-linejoin="round"/>
<path d="M455.8,386.3L461.1,384.5L467,383.4L472.8,383.9L475.2,384.5L477.5,381L479.3,377.5M475.2,384.5L479.8,383.9L484.5,382.2L489.2,380.4M484.5,382.2L486.9,377.5L489.8,375.7M481,383.9L482.8,388L484.5,386.9M461.1,400.9L467,398.6L472.8,397.4L477.5,396.2L479.8,395.1M472.8,397.4L475.2,402.1L474.6,405.6M459.9,415L464.6,411.5L469.3,408L474,405.6M462.9,419.7L468.1,416.2L474,413.2L478.7,411.5M465.2,423.8L469.3,426.7M467,420.9L474,423.8M458.8,371.1L464.6,369.9L471.6,369.3L477.5,370.5L479.8,369.9M465.2,363.4L470.5,364.6L475.2,363.4L481,364M475.2,354.6L479.8,356.4L484.5,355.2M486.9,349.4L491.6,351.7L496.2,350.5L498.6,354.1M497.4,342.9L500.9,345.9L505.6,344.1M515,416.2L517.9,415L519.7,410.3L520.9,409.1M514.1,342.5L518.8,339.4L525,337.8L529.7,335.5L531.2,333.1M512.5,337.8L517.2,336.2M495.3,355L497.7,350.3L500,347.2M492.2,348.8L495.3,345.6M473.4,362.8L478.1,361.2L481.2,362.8M466.4,367.5L471.9,365.9M459.4,384.7L467.2,383.1L475,382.3L478.9,378.4M475,382.3L479.7,386.2L485.9,384.7L489.1,380M464.1,372.2L470.3,373.8L476.6,370.6M545.3,292.5L550,294.1L552.3,297.2M573.4,265.9L576.6,269.1L579.7,270.6M575,259.7L579.7,261.2M584.4,250.3L587.5,253.4L589.8,251.9M617.6,212L620.2,219L623.7,227.8M627.2,209.3L629,216.4L633.4,225.2M610.5,220.8L615.8,224.3L619.3,227.8M636,210.2L637.8,214.6M644.8,209.3L649.2,213.7L652.7,218.1M658,206.7L661.5,211.1L665.9,213.7M600.9,234.8L604.4,230.1M151.4,273.4L156.9,277.3M147.5,278.4L153.8,280.5L159.2,280.2M158.5,269.5L163.2,273.4L165.5,276.9M163.9,290.9L168.9,289.1M467.5,433.8L469.9,431.9M464.7,430.5L468.3,428.1M462.7,427.2L465.1,427.4M461.8,423.3L464.8,423.9M460.7,419.3L465.5,417.7M459.2,414.5L461.9,414M458.2,408.7L462.2,409.2M457.7,403.7L460.2,404M457,399.5L459.6,397.5M455.7,393.5L459.5,393.5M454.6,387.8L459.1,388.7M454.3,383.7L459.2,383.9M454.9,378.2L460,376.8M455.8,373.9L458.2,375.8M456.8,370.1L461.1,370.4M459.9,366.2L462.9,368.2M463.7,362.4L465,366.5M467.6,359.2L469.5,364.3M472,355.8L475.5,358.7M477.1,352.5L478.3,357.8M480.6,350.1L484.1,353.2M485,346.7L488.2,349.4M488.1,344.3L489.3,349.3M490.4,342.4L493.8,346M493.5,340L494.8,342.9M497.8,336.5L499.1,338.6M500.3,334.6L503.6,337.8M504.9,331.1L508.2,335.5M510.1,328.5L512.4,330.9M514.7,326.6L516.1,328.5M518.5,324.8L521.5,327.9M521.6,323.2L524.6,327.4M526.9,320.6L529.7,325M527.6,319.2L530.8,316.8M524.2,315.7L527.5,313.2M529.3,313L530.3,316.8M533.7,311.6L536,313.7M538.6,308L540.9,311.3M540.6,305.8L543.5,308M542.4,303L545.7,305.8M541.4,302.6L542.7,298.4M538.5,298.7L541.3,300.9M540.8,294.5L543.1,294.7M544.2,290.3L548.9,293.2M547.2,287.1L551,289.1M549.8,283.7L552.7,285.4M552.9,279.8L555.5,281.9M556.8,276L558.4,277.7M560,272.3L563.1,273.4M563.4,267.8L565.9,269.7M566.9,265.3L570.8,267.7M570,262.4L572.4,264.7M571.7,258.8L576.8,259.7M574.5,254.9L576.4,258.9M577.2,252.1L580,253.4M582,249.5L582.2,252.5M586.4,247.5L588.6,249.4M587,244.9L590.8,242.7M586.9,241.3L588.6,243.5M591.8,238.9L593.6,241.5M595.4,236.6L597.7,239.5M596.1,233.8L597.6,231.4M596,227.8L598.1,232.5M598.9,224.4L601.4,229.3M599.2,221.4L603.8,222.8M604.9,222.1L604.7,226.1M607.7,221.7L610.5,222.9M611.8,218.1L612.8,221.2M614.5,216.3L616.6,221.1M617.9,211.9L621,216.1M622.1,209.3L622.4,211.6M625.8,208.3L625.8,211.6M630.8,207.9L628.9,211M635,208.5L636.1,211.8M641,208L640.3,211.8M644.3,207.2L646.1,209.5M649.2,203.9L649.2,206.7" fill="none" stroke="#F4F7FA" stroke-width="1.6" stroke-linecap="round" stroke-linejoin="round"/>
<circle cx="497.9" cy="620.0" r="3.4" fill="#FAE355" stroke="#fff" stroke-opacity="0.35" stroke-width="0.8"/>
<circle cx="524.8" cy="670.0" r="3.2" fill="#FAE355" stroke="#fff" stroke-opacity="0.35" stroke-width="0.8"/>
<circle cx="45" cy="716" r="0.8" fill="#FAE355"/>
<circle cx="75.5" cy="731" r="1.1" fill="#FAE355"/>
<circle cx="89" cy="729.5" r="0.8" fill="#FAE355"/>
<circle cx="106.5" cy="742" r="1.2" fill="#FAE355"/>
<circle cx="111" cy="754.5" r="0.7" fill="#FAE355"/>
<circle cx="197.5" cy="815.5" r="1.1" fill="#FAE355"/>
</g>
<!-- header -->
<rect x="31" y="62" width="23" height="101" fill="#D9161F"/>
<text x="68.72" y="106" font-size="60" font-weight="700" fill="#050505" textLength="107.44" lengthAdjust="spacingAndGlyphs">The</text>
<text x="191.87" y="106" font-size="60" font-weight="700" fill="#050505" textLength="362.85" lengthAdjust="spacingAndGlyphs">Coronavirus</text>
<text x="568.43" y="106" font-size="60" font-weight="700" fill="#050505" textLength="59.47" lengthAdjust="spacingAndGlyphs">in</text>
<text x="645.64" y="106" font-size="60" font-weight="700" fill="#050505" textLength="208.83" lengthAdjust="spacingAndGlyphs">Europe</text>
<text x="68.17" y="163.5" font-size="34" fill="#54585B" textLength="166.05" lengthAdjust="spacingAndGlyphs">Confirmed</text>
<text x="242.35" y="163.5" font-size="34" fill="#54585B" textLength="86.04" lengthAdjust="spacingAndGlyphs">cases</text>
<text x="336.53" y="163.5" font-size="34" fill="#54585B" textLength="31.22" lengthAdjust="spacingAndGlyphs">of</text>
<text x="377.26" y="163.5" font-size="34" fill="#54585B" textLength="49.94" lengthAdjust="spacingAndGlyphs">the</text>
<text x="435.53" y="163.5" font-size="34" fill="#54585B" textLength="151.63" lengthAdjust="spacingAndGlyphs">COVID-19</text>
<text x="595.99" y="163.5" font-size="34" fill="#54585B" textLength="183.80" lengthAdjust="spacingAndGlyphs">coronavirus</text>
<text x="786.76" y="163.5" font-size="34" fill="#54585B" textLength="30.70" lengthAdjust="spacingAndGlyphs">in</text>
<text x="825.12" y="163.5" font-size="34" fill="#54585B" textLength="113.14" lengthAdjust="spacingAndGlyphs">Europe</text>
<text id="ast" x="938.3" y="161.5" font-size="25" fill="#54585B">*</text>
<!-- legend -->
<rect x="34.3" y="434.9" width="21.3" height="21.3" fill="#FAE355"/>
<text x="68.85" y="455.5" font-size="30" fill="#111" textLength="10.58" lengthAdjust="spacingAndGlyphs">1</text>
<text x="92.68" y="455.5" font-size="30" fill="#111" textLength="28.88" lengthAdjust="spacingAndGlyphs">to</text>
<text x="129.21" y="455.5" font-size="30" fill="#111" textLength="33.05" lengthAdjust="spacingAndGlyphs">50</text>
<rect x="34.3" y="477.6" width="21.3" height="21.3" fill="#EBC52D"/>
<text x="67.84" y="498.2" font-size="30" fill="#111" textLength="29.56" lengthAdjust="spacingAndGlyphs">51</text>
<text x="109.36" y="498.2" font-size="30" fill="#111" textLength="29.84" lengthAdjust="spacingAndGlyphs">to</text>
<text x="144.93" y="498.2" font-size="30" fill="#111" textLength="51.98" lengthAdjust="spacingAndGlyphs">250</text>
<rect x="34.3" y="520.3" width="21.3" height="21.3" fill="#F09228"/>
<text x="67.49" y="540.9" font-size="30" fill="#111" textLength="46.67" lengthAdjust="spacingAndGlyphs">251</text>
<text x="126.97" y="540.9" font-size="30" fill="#111" textLength="29.20" lengthAdjust="spacingAndGlyphs">to</text>
<text x="162.86" y="540.9" font-size="30" fill="#111" textLength="51.65" lengthAdjust="spacingAndGlyphs">500</text>
<rect x="34.3" y="563.1" width="21.3" height="21.3" fill="#E1632A"/>
<text x="67.79" y="583.7" font-size="30" fill="#111" textLength="46.37" lengthAdjust="spacingAndGlyphs">501</text>
<text x="126.97" y="583.7" font-size="30" fill="#111" textLength="29.20" lengthAdjust="spacingAndGlyphs">to</text>
<text x="163.19" y="583.7" font-size="30" fill="#111" textLength="75.89" lengthAdjust="spacingAndGlyphs">1,000</text>
<rect x="34.3" y="605.8" width="21.3" height="21.3" fill="#D71920"/>
<text x="68.14" y="626.4" font-size="30" fill="#111" textLength="70.94" lengthAdjust="spacingAndGlyphs">1,001</text>
<text x="151.88" y="626.4" font-size="30" fill="#111" textLength="28.88" lengthAdjust="spacingAndGlyphs">to</text>
<text x="187.80" y="626.4" font-size="30" fill="#111" textLength="74.97" lengthAdjust="spacingAndGlyphs">5,000</text>
<rect x="34.3" y="648.5" width="21.3" height="21.3" fill="#7F0A0E"/>
<text x="67.41" y="669.1" font-size="30" fill="#111" textLength="93.48" lengthAdjust="spacingAndGlyphs">&gt;5,000</text>
<!-- footer -->
<text x="31.50" y="863.8" font-size="25.5" fill="#54585B" textLength="11.98" lengthAdjust="spacingAndGlyphs">*</text>
<text x="51.95" y="863.8" font-size="25.5" fill="#54585B" textLength="28.43" lengthAdjust="spacingAndGlyphs">As</text>
<text x="87.60" y="863.8" font-size="25.5" fill="#54585B" textLength="22.86" lengthAdjust="spacingAndGlyphs">of</text>
<text x="117.61" y="863.8" font-size="25.5" fill="#54585B" textLength="13.55" lengthAdjust="spacingAndGlyphs">9</text>
<text x="137.78" y="863.8" font-size="25.5" fill="#54585B" textLength="75.23" lengthAdjust="spacingAndGlyphs">March</text>
<text x="219.98" y="863.8" font-size="25.5" fill="#54585B" textLength="56.00" lengthAdjust="spacingAndGlyphs">2020</text>
<text x="283.92" y="863.8" font-size="25.5" fill="#54585B" textLength="21.27" lengthAdjust="spacingAndGlyphs">at</text>
<text x="312.74" y="863.8" font-size="25.5" fill="#54585B" textLength="64.51" lengthAdjust="spacingAndGlyphs">08:30</text>
<text x="385.13" y="863.8" font-size="25.5" fill="#54585B" textLength="44.13" lengthAdjust="spacingAndGlyphs">CET</text>
<text x="30.84" y="905" font-size="25.5" fill="#54585B" textLength="87.73" lengthAdjust="spacingAndGlyphs">Source:</text>
<text x="123.37" y="905" font-size="25.5" fill="#54585B" textLength="65.52" lengthAdjust="spacingAndGlyphs">Johns</text>
<text x="195.33" y="905" font-size="25.5" fill="#54585B" textLength="95.63" lengthAdjust="spacingAndGlyphs">Hopkins</text>
<text x="297.92" y="905" font-size="25.5" fill="#54585B" textLength="118.38" lengthAdjust="spacingAndGlyphs">University</text>
<!-- label -->
<path d="M558.2,772.8L569.5,784L668.9,784L668.9,821L558.2,821Z" fill="#7F0A0E"/>
<text x="575.70" y="811.5" font-size="29.5" font-weight="700" fill="#fff" textLength="75.54" lengthAdjust="spacingAndGlyphs">7,375</text>
<!-- cc icons -->
<g fill="none" stroke="#7A7D7B" stroke-width="4.4">
<circle cx="55.8" cy="967.8" r="23"/><circle cx="117.1" cy="967.8" r="23"/><circle cx="178.6" cy="967.8" r="23"/>
<path d="M53.2,964.4A5.7,5.7 0 1 0 53.2,971.8" stroke-width="4.3"/>
<path d="M68.2,964.4A5.7,5.7 0 1 0 68.2,971.8" stroke-width="4.3"/>
</g>
<g fill="#7A7D7B">
<circle cx="116.9" cy="955" r="3.5"/>
<rect x="110.3" y="960.2" width="13.2" height="12" rx="1"/>
<rect x="112.8" y="970" width="8.3" height="13.8"/>
<rect x="170" y="962.2" width="18" height="4.1"/>
<rect x="170" y="970" width="18" height="4.3"/>
</g>
<!-- statista -->
<defs>
<path id="gt" d="M4.7,-49.2H12.3V-38.3H17.5V-32.1H12.3V-9.5Q12.3,-6.4 15.4,-6.4H17.5V0H11.2Q4.7,0 4.7,-7.2V-32.1H0V-38.3H4.7Z"/>
<g id="gs" fill="none" stroke="#0F2741" stroke-width="7.2">
<path d="M19.8,-26.5C19.6,-32.5 16.5,-35.4 11.4,-35.4C6.5,-35.4 3.7,-32.6 3.7,-28.6C3.7,-24 7,-22.2 11.6,-20.2C16.4,-18.1 19.4,-16 19.4,-10.8C19.4,-6 16.4,-3.2 11.4,-3.2C6,-3.2 3.2,-6.4 3.0,-12.4"/>
</g>
<g id="ga" fill="none" stroke="#0F2741">
<path d="M4.6,-26.8C4.8,-32.8 7.8,-35.4 12.8,-35.4C18.4,-35.4 21.5,-32.6 21.5,-27V0" stroke-width="7.6"/>
<path d="M21.5,-21.8C12,-21.2 4,-18.6 4,-10.4C4,-5.6 6.8,-3.2 10.4,-3.2C15,-3.2 19,-6.4 21.5,-10.4" stroke-width="6.8"/>
</g>
<g id="gi"><rect x="0" y="-49.2" width="7.6" height="6.8"/><rect x="0" y="-38.3" width="7.6" height="38.3"/></g>
</defs>
<g fill="#0F2741">
<use href="#gs" x="738.2" y="992.2"/>
<use href="#gt" x="764.9" y="992.2"/>
<use href="#ga" x="786.7" y="992.2"/>
<use href="#gt" x="816.8" y="992.2"/>
<use href="#gi" x="840.4" y="992.2"/>
<use href="#gs" x="853.9" y="992.2"/>
<use href="#gt" x="881.1" y="992.2"/>
<use href="#ga" x="902.1" y="992.2"/>
</g>
<rect x="942.9" y="942.9" width="50" height="50" rx="1" fill="#0F2741"/>
<path d="M942.9,976.1C955,976 959.5,971.5 964.4,962.8S974,948 992.9,947.6L992.9,959.3C980,960 977.2,965 973.75,970.6S962,987.2 942.9,987.8Z" fill="#F4F7FA"/>
</svg>
</body></html>
